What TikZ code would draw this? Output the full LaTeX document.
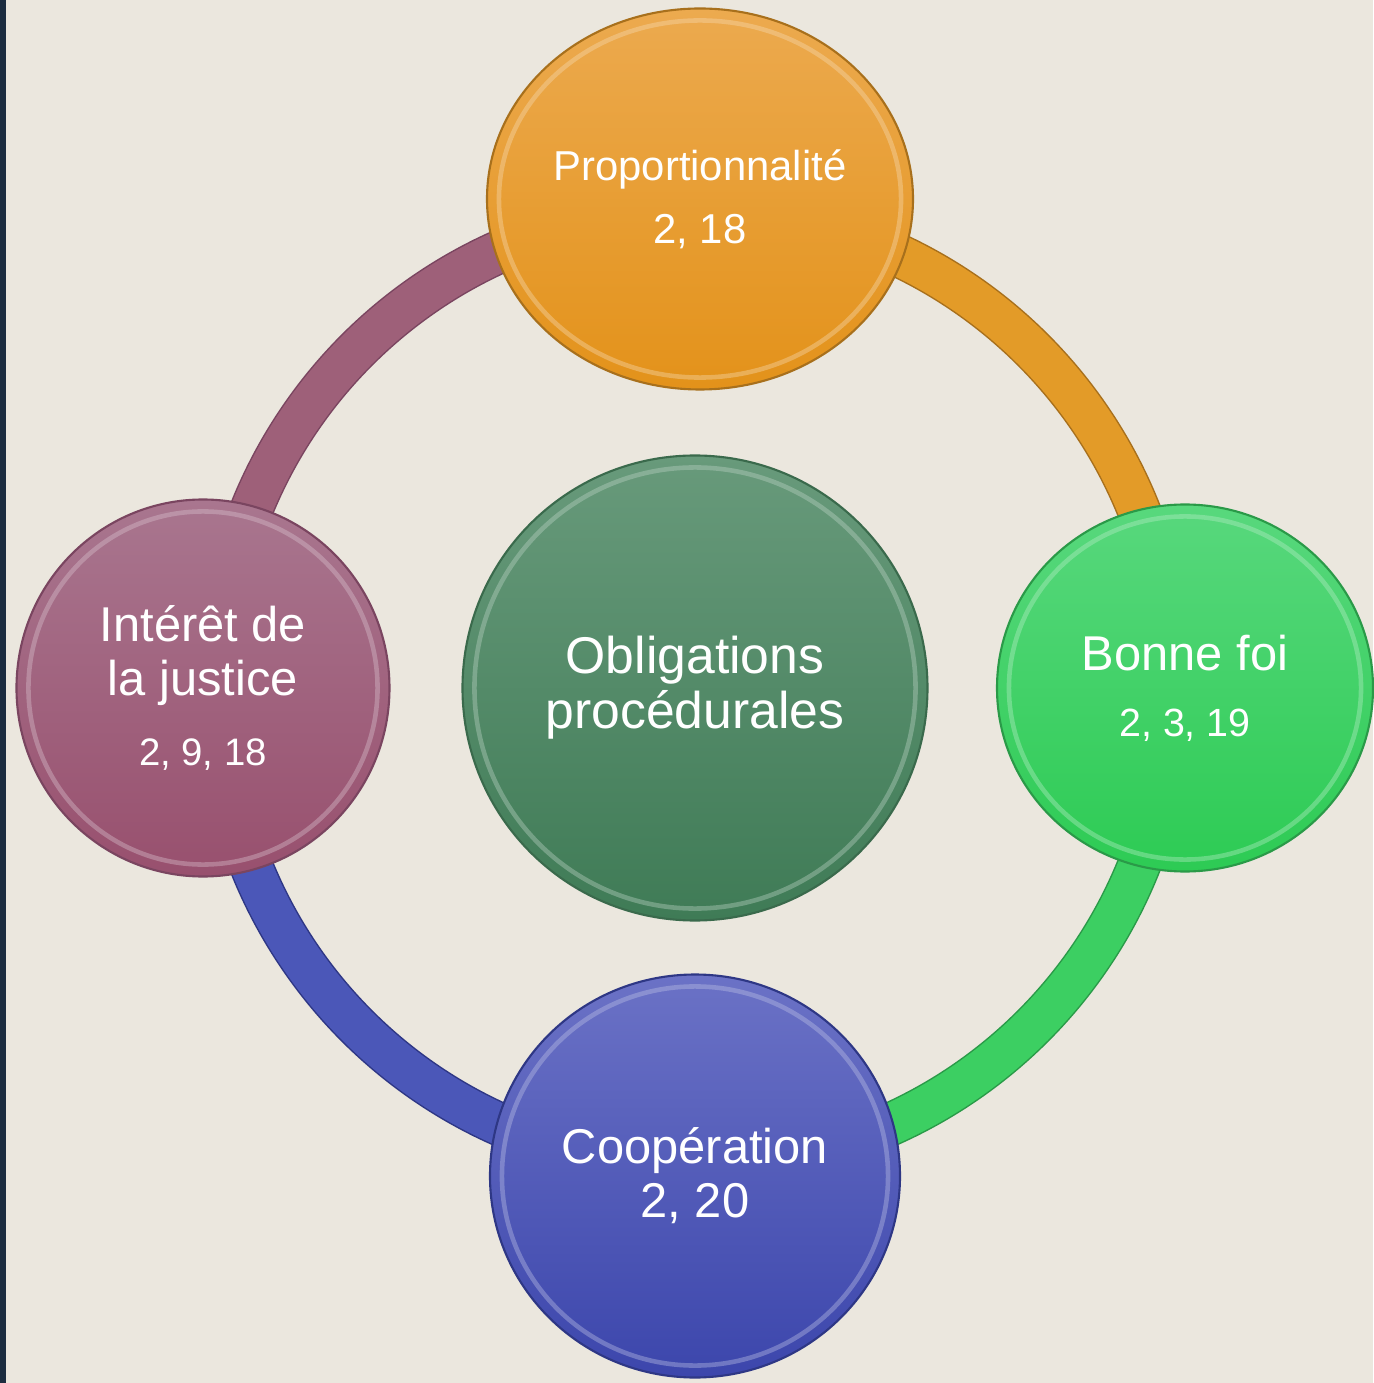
\documentclass[tikz,border=0pt]{standalone}
\usepackage{fontspec}
\setmainfont{Liberation Sans}
\usetikzlibrary{
  calc,
  positioning,
  shapes
}

\definecolor{paper}{HTML}{EBE7DE}
\definecolor{strip}{HTML}{1C2D40}
\definecolor{sageTop}{HTML}{689A7B}
\definecolor{sageBot}{HTML}{3F7B56}
\definecolor{sageEdge}{HTML}{3A6A4C}
\definecolor{orangeTop}{HTML}{ECAA4F}
\definecolor{orangeBot}{HTML}{E3921A}
\definecolor{orangeEdge}{HTML}{A8701C}
\definecolor{orangeRing}{HTML}{E39B28}
\definecolor{greenTop}{HTML}{58D87D}
\definecolor{greenBot}{HTML}{2DCB54}
\definecolor{greenEdge}{HTML}{2A9A48}
\definecolor{greenRing}{HTML}{3CCF62}
\definecolor{pinkTop}{HTML}{A9768F}
\definecolor{pinkBot}{HTML}{98506E}
\definecolor{pinkEdge}{HTML}{7A4560}
\definecolor{pinkRing}{HTML}{9E6079}
\definecolor{blueTop}{HTML}{6B72C6}
\definecolor{blueBot}{HTML}{3C46AC}
\definecolor{blueEdge}{HTML}{2E3785}
\definecolor{blueRing}{HTML}{4B57B8}

\begin{document}
\begin{tikzpicture}[
  bubble/.style={ellipse,inner sep=0pt,draw=#1Edge,line width=0.6pt,
    top color=#1Top,bottom color=#1Bot,text=white,align=center,
    font=\fontsize{13.9}{15.4}\selectfont},
  rim/.style={line width=1.3pt,#1Top!45!white,opacity=0.4},
  ringedge/.style={line width=0.44cm,#1Edge},
  ringband/.style={line width=0.41cm,#1Ring}
]
  \fill[paper] (-6.95, -6.95) rectangle (6.78, 6.88);
  \fill[strip] (-6.95, -6.95) rectangle (-6.89, 6.88);
  \useasboundingbox (-6.95, -6.95) rectangle (6.78, 6.88);

  \node[bubble=sage,minimum width=4.65cm,minimum height=4.65cm,
    font=\fontsize{14.7}{15.6}\selectfont]
  at (0, 0) (Obligations) {Obligations\\procédurales};

  % ring between the outer bubbles
  \draw[ringedge=pink] ([shift={(180:4.78)}]Obligations.center) arc[start angle=180, end angle=90, radius=4.78];
  \draw[ringband=pink] ([shift={(180:4.78)}]Obligations.center) arc[start angle=180, end angle=90, radius=4.78];
  \draw[ringedge=orange] ([shift={(90:4.78)}]Obligations.center) arc[start angle=90, end angle=0, radius=4.78];
  \draw[ringband=orange] ([shift={(90:4.78)}]Obligations.center) arc[start angle=90, end angle=0, radius=4.78];
  \draw[ringedge=green] ([shift={(0:4.78)}]Obligations.center) arc[start angle=0, end angle=-90, radius=4.78];
  \draw[ringband=green] ([shift={(0:4.78)}]Obligations.center) arc[start angle=0, end angle=-90, radius=4.78];
  \draw[ringedge=blue] ([shift={(-90:4.78)}]Obligations.center) arc[start angle=-90, end angle=-180, radius=4.78];
  \draw[ringband=blue] ([shift={(-90:4.78)}]Obligations.center) arc[start angle=-90, end angle=-180, radius=4.78];

  \node[bubble=orange,minimum width=4.26cm,minimum height=3.81cm,
    font=\fontsize{11.9}{17.9}\selectfont]
  at (0.05, 4.89) (Proportionnalite) {Proportionnalité\\2, 18};
  \node[bubble=green,minimum width=3.76cm,minimum height=3.67cm]
  at (4.90, 0) (Bonne foi)
  {Bonne foi\\[3.4pt]\fontsize{11.2}{13}\selectfont 2, 3, 19};
  \node[bubble=pink,minimum width=3.73cm,minimum height=3.77cm]
  at (-4.92, 0) (Interet)
  {Intérêt de\\la justice\\[4.5pt]\fontsize{10.9}{13}\selectfont 2, 9, 18};
  \node[bubble=blue,minimum width=4.10cm,minimum height=4.03cm]
  at (0, -4.88) (Cooperation) {Coopération\\2, 20};

  % bevel rims
  \draw[rim=sage] let \p1 = ($(Obligations.east)-(Obligations.center)$), \p2 = ($(Obligations.north)-(Obligations.center)$)
  in (Obligations.center) ellipse ({\x1-0.13cm} and {\y2-0.13cm});
  \draw[rim=orange] let \p1 = ($(Proportionnalite.east)-(Proportionnalite.center)$), \p2 = ($(Proportionnalite.north)-(Proportionnalite.center)$)
  in (Proportionnalite.center) ellipse ({\x1-0.13cm} and {\y2-0.13cm});
  \draw[rim=green] let \p1 = ($(Bonne foi.east)-(Bonne foi.center)$), \p2 = ($(Bonne foi.north)-(Bonne foi.center)$)
  in (Bonne foi.center) ellipse ({\x1-0.13cm} and {\y2-0.13cm});
  \draw[rim=pink] let \p1 = ($(Interet.east)-(Interet.center)$), \p2 = ($(Interet.north)-(Interet.center)$)
  in (Interet.center) ellipse ({\x1-0.13cm} and {\y2-0.13cm});
  \draw[rim=blue] let \p1 = ($(Cooperation.east)-(Cooperation.center)$), \p2 = ($(Cooperation.north)-(Cooperation.center)$)
  in (Cooperation.center) ellipse ({\x1-0.13cm} and {\y2-0.13cm});
\end{tikzpicture}
\end{document}
